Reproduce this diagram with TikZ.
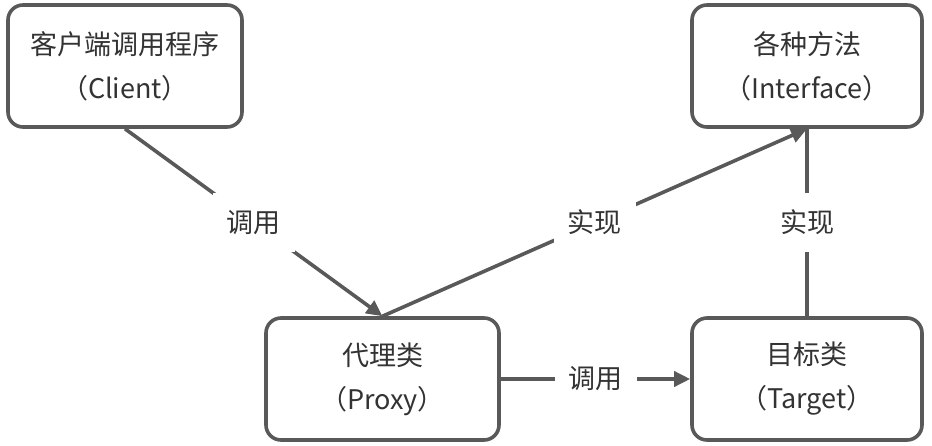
\documentclass[tikz,border=0pt]{standalone}
\usepackage{fontspec}
\setmainfont{Noto Sans CJK SC}
\usetikzlibrary{arrows.meta}
\definecolor{linegray}{HTML}{595959}
\definecolor{textgray}{HTML}{333333}
\tikzset{
  box/.style={draw=linegray, line width=3.6pt, rounded corners=15pt, fill=white,
    text=textgray, align=center, font=\fontsize{27}{44}\selectfont, inner sep=0pt},
  conn/.style={draw=linegray, line width=3.6pt},
  arr/.style={conn, -{Triangle[length=16pt,width=15pt]}},
  lbl/.style={fill=white, text=textgray, font=\fontsize{27}{30}\selectfont,
    inner xsep=14pt, inner ysep=17pt}
}
\begin{document}
\begin{tikzpicture}[x=1pt,y=-1pt]
\useasboundingbox (0,0) rectangle (932,445);
\node[box, minimum width=234pt, minimum height=122pt] (client) at (125,66)
  {\raisebox{-2pt}{客户端调用程序}\\\raisebox{-2pt}{（Client）}};
\node[box, minimum width=230pt, minimum height=122pt] (iface) at (807,66)
  {\raisebox{-2pt}{各种方法}\\\raisebox{-2pt}{（Interface）}};
\node[box, minimum width=233pt, minimum height=122pt] (proxy) at (382.5,379)
  {\raisebox{-2pt}{代理类}\\\raisebox{-2pt}{（Proxy）}};
\node[box, minimum width=230pt, minimum height=122pt] (target) at (807,379)
  {\raisebox{-2pt}{目标类}\\\raisebox{-2pt}{（Target）}};
\draw[arr] (client.south) -- node[lbl] (l1) {调用} (proxy.north);
\draw[arr] (proxy.north) -- node[lbl] (l2) {实现} (iface.south);
\draw[conn] (target.north) -- node[lbl] (l3) {实现} (iface.south);
\draw[arr] (proxy.east) -- node[lbl] (l4) {调用} (target.west);
\end{tikzpicture}
\end{document}
